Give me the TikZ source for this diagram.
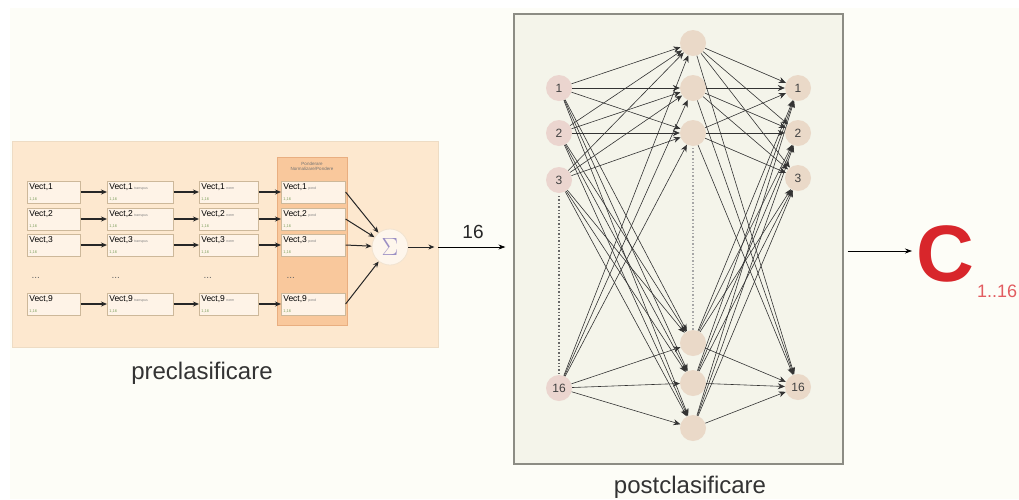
\documentclass[tikz,border=0pt]{standalone}
\usepackage{fontspec}
\setmainfont{Liberation Sans}
\usetikzlibrary{arrows.meta}
\definecolor{pagebg}{HTML}{FDFDF7}
\definecolor{prebg}{HTML}{FDE8CF}
\definecolor{preedge}{HTML}{EEDCC4}
\definecolor{colbg}{HTML}{F9C89C}
\definecolor{coledge}{HTML}{E9AE80}
\definecolor{vedge}{HTML}{CDB89A}
\definecolor{vgreen}{HTML}{7FA060}
\definecolor{postbg}{HTML}{F4F4EA}
\definecolor{postedge}{HTML}{8C8C84}
\definecolor{nleft}{HTML}{EBD5CF}
\definecolor{nmid}{HTML}{EAD9C8}
\definecolor{cred}{HTML}{D8262B}
\definecolor{sigmacol}{HTML}{9B8FC4}
\tikzset{
  vecbox/.style={draw=vedge, line width=0.6pt, fill=prebg!50!white, minimum height=22pt, inner xsep=2pt, inner ysep=1pt, align=left, anchor=west},
  thickarr/.style={-{Stealth[length=6pt,width=5pt]}, line width=1.2pt, draw=black!85},
  netarr/.style={-{Stealth[length=7pt,width=6pt]}, line width=0.6pt, draw=black!80},
  neuron/.style={circle, minimum size=26pt, inner sep=0pt, font=\fontsize{12}{12}\selectfont, text=black!75},
  caption/.style={font=\fontsize{24}{24}\selectfont, text=black!80},
  dotsrow/.style={font=\fontsize{10}{10}\selectfont, text=black!60, anchor=west}
}
\newcommand{\vecnode}[6]{%
  \node[vecbox, text width=#4pt] (#1) at (#2,#3) {\fontsize{8.5}{8}\selectfont Vect,#5\,{\fontsize{3.5}{3}\selectfont\color{black!50}#6}\\[-1pt]{\fontsize{4}{4}\selectfont\color{vgreen}1,16}};}
\begin{document}
\begin{tikzpicture}[x=1pt,y=-1pt]
\useasboundingbox (0,0) rectangle (1019,499);
\fill[pagebg] (10,8) rectangle (1019,499);
% preclassification
\node[draw=preedge, fill=prebg, line width=0.8pt, minimum width=426pt, minimum height=206pt, inner sep=0pt] (pre) at (225,244) {};
\node[draw=coledge, fill=colbg, line width=0.6pt, minimum width=70pt, minimum height=168pt, inner sep=0pt] (col) at (312,241) {};
\node[font=\fontsize{4.5}{5}\selectfont, text=black!55, align=center] (colhead) at (312,166) {Ponderare\\Normalizare/Pondere};
\foreach \r/\y/\k in {1/192/1,2/219/2,3/245/3,9/304/9}{
  \vecnode{a\r}{27}{\y}{49}{\k}{}
  \vecnode{b\r}{107}{\y}{62}{\k}{transpus}
  \vecnode{c\r}{199}{\y}{55}{\k}{norm}
  \vecnode{d\r}{281}{\y}{60}{\k}{pond}
  \draw[thickarr] (a\r.east) -- (b\r.west);
  \draw[thickarr] (b\r.east) -- (c\r.west);
  \draw[thickarr] (c\r.east) -- (d\r.west);
}
\node[dotsrow] (dota) at (28,278) {...};
\node[dotsrow] (dotb) at (108,278) {...};
\node[dotsrow] (dotc) at (200,278) {...};
\node[dotsrow] (dotd) at (283,278) {...};
\node[circle, draw=preedge!80!white, fill=prebg!40!white, line width=0.8pt, minimum size=36pt, inner sep=0pt, text=sigmacol, font=\fontsize{26}{26}\selectfont] (sig) at (390,247) {$\Sigma$};
\foreach \r in {1,2,3,9}{
  \draw[thickarr, line width=1pt] (d\r.east) -- (sig);
}
\draw[thickarr, line width=1pt, shorten >=4pt] (sig) -- (sig -| pre.east);
\node[caption] (precap) at (202,373) {preclasificare};
% postclassification
\node[draw=postedge, fill=postbg, line width=1.2pt, minimum width=329pt, minimum height=450pt, inner sep=0pt] (post) at (678.5,239) {};
\draw[-{Stealth[length=7pt,width=5pt]}, line width=0.7pt, shorten >=8pt] (pre.east |- sig) -- (post.west |- sig);
\node[font=\fontsize{19}{19}\selectfont, text=black!85] (n16) at (473,232) {16};
\node[caption] (postcap) at (690,487) {postclasificare};
\draw[dotted, line width=1.4pt, black!60] (559,196) -- (559,373);
\draw[dotted, line width=1.4pt, black!35] (693,148) -- (693,330);
\foreach \n/\y/\t in {L1/88/1,L2/133/2,L3/180/3,L16/388/16}{
  \node[neuron, fill=nleft] (\n) at (559,\y) {\t};
}
\foreach \n/\y in {M1/43,M2/88,M3/133,M4/343,M5/383,M6/428}{
  \node[neuron, fill=nmid] (\n) at (693,\y) {};
}
\foreach \n/\y/\t in {R1/88/1,R2/133/2,R3/178/3,R16/387/16}{
  \node[neuron, fill=nmid] (\n) at (798,\y) {\t};
}
\foreach \a in {L1,L2,L3,L16}{
  \foreach \b in {M1,M2,M3,M4,M5,M6}{
    \draw[netarr] (\a) -- (\b);
  }
}
\foreach \a in {M1,M2,M3,M4,M5,M6}{
  \foreach \b in {R1,R2,R3,R16}{
    \draw[netarr] (\a) -- (\b);
  }
}
% output
\node[anchor=west, inner sep=0pt, text=cred, font=\fontsize{80}{80}\selectfont\bfseries] (C) at (916,254) {C};
\node[anchor=base west, inner sep=0pt, text=cred!75, font=\fontsize{18}{18}\selectfont] (sub) at (977,297) {1..16};
\draw[-{Stealth[length=7pt,width=5pt]}, line width=0.7pt, shorten <=4pt, shorten >=4pt] (post.east |- 0,251) -- (C.west |- 0,251);
\end{tikzpicture}
\end{document}
